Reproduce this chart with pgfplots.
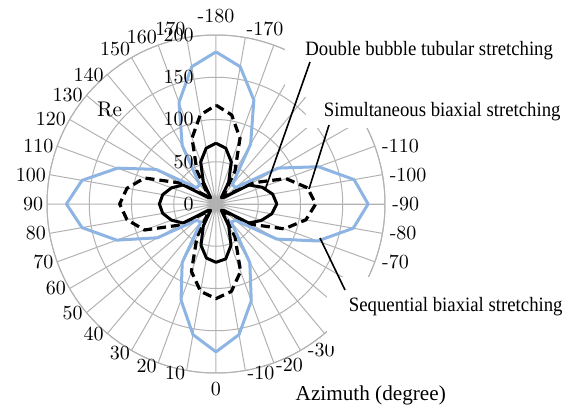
\documentclass[border=0pt]{standalone}
\usepackage{fontspec}
\usepackage{pgfplots}
\pgfplotsset{compat=1.18}
\usepackage{pgfplotstable}
\usepgfplotslibrary{polar}
\newfontfamily\annotfont[FakeStretch=0.92]{Liberation Serif}
\newfontfamily\titlefont{Liberation Serif}
\definecolor{seqblue}{RGB}{141,180,226}
\definecolor{gridgray}{RGB}{178,178,178}

% Re against azimuth (degree) for the three stretching processes
\pgfplotstableread{
az    seq  sim  dbt
-180  180  117  72
-170  165  107  67
-160  131   83  53
-150   82   45  30
-140   30   15  10
-130   30   15  12
-120   85   50  45
-110  129   88  58
-100  166  110  68
-90   180  118  72
-80   165  108  67
-70   128   86  57
-60    83   48  45
-50    30   15  12
-40    28   15  10
-30    80   45  30
-20   122   85  52
-10   157  105  66
0     175  112  69
10    157  105  65
20    121   85  52
30     80   45  30
40     28   15  10
50     30   15  12
60     80   50  45
70    125   90  56
80    161  107  64
90    177  114  67
100   161  107  64
110   124   90  56
120    82   50  45
130    30   15  12
140    30   15  10
150    80   45  30
160   128   83  53
170   165  107  67
180   180  117  72
}\retable

\tikzset{
  az/.style={font=\fontsize{10}{12}\selectfont},
  azR/.style={az, anchor=west, inner sep=3.5pt},
  azL/.style={az, anchor=east, inner sep=1.7pt},
  azTL/.style={az, anchor=south east, inner sep=0.5pt},
  azTR/.style={az, anchor=south west, inner sep=0.5pt},
  azT/.style={az, anchor=south, inner sep=6pt},
  azB/.style={az, anchor=north, inner sep=4.5pt},
  azBL/.style={az, anchor=east, inner sep=0.6pt, yshift=-1.5pt},
  azBR/.style={az, anchor=west, inner sep=1pt, yshift=-1.2pt},
}

\begin{document}
\begin{tikzpicture}
\useasboundingbox (0pt,0pt) rectangle (282pt,-203.5pt);
\begin{polaraxis}[
  at={(108pt,-102pt)}, anchor=center,
  scale only axis, width=169pt, height=169pt,
  ymin=0, ymax=200,
  xtick={0,10,...,350},
  xticklabels={},
  ytick={50,100,150,200},
  yticklabels={},
  xmajorgrids, ymajorgrids,
  grid style={gridgray, line width=0.5pt},
  axis line style={gridgray, line width=0.5pt},
  major tick length=0pt,
  tick style={draw=none},
  clip=false,
]
\addplot[no marks, black, line width=1.5pt, line join=round]
  table[x expr={270-\thisrow{az}}, y=dbt] {\retable};
\addplot[no marks, black, line width=1.6pt, line join=round,
  dash pattern=on 4.5pt off 2.5pt]
  table[x expr={270-\thisrow{az}}, y=sim] {\retable};
\addplot[no marks, seqblue, line width=1.5pt, line join=round]
  table[x expr={270-\thisrow{az}}, y=seq] {\retable};
\pgfplotsinvokeforeach{0,50,100,150,200}{
  \node[anchor=east, inner sep=0pt, xshift=-11pt,
    font=\fontsize{10}{12}\selectfont] at (axis cs:90,#1) {#1};
}
\coordinate (c) at (axis cs:0,0);
\end{polaraxis}
% azimuth labels round the outer ring (screen angle / label / placement);
% the ones under the annotation boxes are left out
\foreach \p/\t/\s in {
  0/-90/azR, 10/-100/azR, 20/-110/azR, 80/-170/azTR, 90/-180/azT,
  100/170/azTL, 110/160/azTL, 120/150/azTL,
  130/140/azL, 140/130/azL, 150/120/azL, 160/110/azL, 170/100/azL, 180/90/azL,
  190/80/azL, 200/70/azL, 210/60/azL, 220/50/azL, 230/40/azL,
  240/30/azBL, 250/20/azBL, 260/10/azBL, 270/0/azB,
  280/-10/azBR, 290/-20/azBR, 300/-30/azR, 340/-70/azR, 350/-80/azR}
  {\node[\s] at ([shift={(\p:84.5pt)}]c) {\t};}
\begin{scope}[x=0.5pt, y=-0.5pt]
  % annotation boxes
  \fill[white] (285,18) rectangle (562,97);
  \fill[white] (306,97) rectangle (562,128);
  \fill[white] (327,277) rectangle (562,346);
  \node[anchor=base west, inner sep=0pt, font=\annotfont\fontsize{10.2}{12}\selectfont]
    at (305,55) {Double bubble tubular stretching};
  \node[anchor=base west, inner sep=0pt, font=\annotfont\fontsize{10.2}{12}\selectfont]
    at (323.5,117) {Simultaneous biaxial stretching};
  \node[anchor=base west, inner sep=0pt, font=\annotfont\fontsize{10.2}{12}\selectfont]
    at (348.5,312) {Sequential biaxial stretching};
  \draw[black, line width=0.8pt] (310,62) -- (265,190);
  \draw[black, line width=0.8pt] (329,125) -- (309,189);
  \draw[black, line width=0.8pt] (345,290) -- (320,238);
  \node[anchor=base west, inner sep=0pt, font=\fontsize{10.6}{12}\selectfont]
    at (96.7,116.5) {Re};
  \node[anchor=base west, inner sep=0pt, font=\titlefont\fontsize{10.6}{12}\selectfont]
    at (295.3,400.5) {Azimuth (degree)};
\end{scope}
\end{tikzpicture}
\end{document}
